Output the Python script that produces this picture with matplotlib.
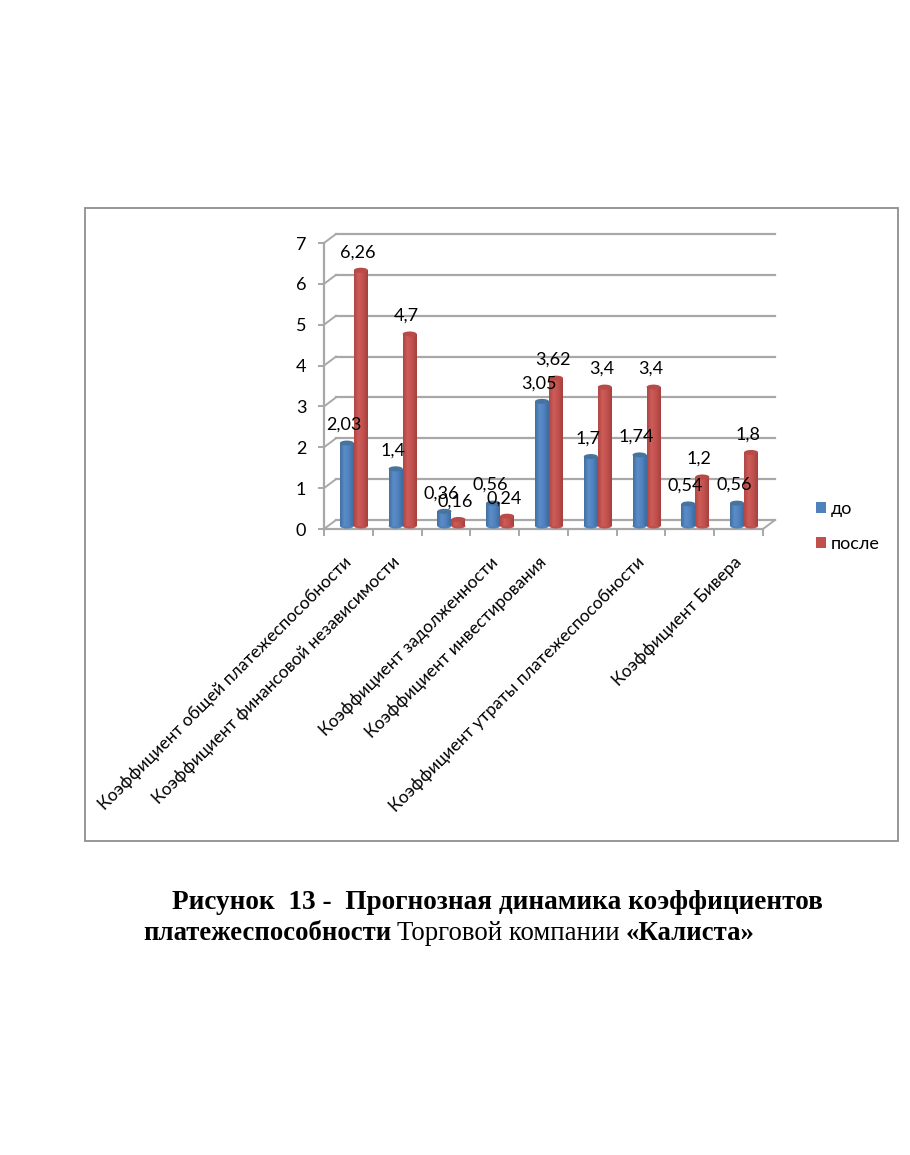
import numpy as np
import matplotlib
matplotlib.use("Agg")
import matplotlib.pyplot as plt
from matplotlib.patches import Rectangle, Ellipse
from matplotlib.lines import Line2D
from matplotlib.transforms import Affine2D
from matplotlib.colors import LinearSegmentedColormap

FIG_W, FIG_H = 910, 1155
SANS = ['Lato', 'Open Sans', 'DejaVu Sans']
SERIF = ['Liberation Serif', 'DejaVu Serif']
plt.rcParams['font.family'] = SANS

categories = ["Коэффициент общей платежеспособности",
              "Коэффициент финансовой независимости",
              "",
              "Коэффициент задолженности",
              "Коэффициент инвестирования",
              "",
              "Коэффициент утраты платежеспособности",
              "",
              "Коэффициент Бивера"]
before = [2.03, 1.4, 0.36, 0.56, 3.05, 1.7, 1.74, 0.54, 0.56]
after = [6.26, 4.7, 0.16, 0.24, 3.62, 3.4, 3.4, 1.2, 1.8]
series_names = ["до", "после"]
y_ticks = list(range(8))

BLUE = '#4F81BD'
RED = '#C0504D'
GREY = '#A8A8A8'
cm_blue = LinearSegmentedColormap.from_list('b', ['#41709F', '#5B8DCA', '#4F81BD', '#3D6A9E'])
cm_red = LinearSegmentedColormap.from_list('r', ['#AE4643', '#CE5D59', '#C0504D', '#A63F3C'])


def px_rect(x0, y0, x1, y1):
    return [x0 / FIG_W, 1 - y1 / FIG_H, (x1 - x0) / FIG_W, (y1 - y0) / FIG_H]


fig = plt.figure(figsize=(FIG_W / 100, FIG_H / 100), dpi=100, facecolor='white')

# outer frame of the pasted chart
fig.add_artist(Rectangle((85 / FIG_W, 1 - 841 / FIG_H), (898 - 85) / FIG_W, (841 - 207.5) / FIG_H,
                         transform=fig.transFigure, fill=False, edgecolor='#8F8F8F', linewidth=1.3))

ax = fig.add_axes(px_rect(324, 243, 763, 529))
ax.set_xlim(0, len(before))
ax.set_ylim(0, 7)
ax.patch.set_visible(False)
for s in ('top', 'right'):
    ax.spines[s].set_visible(False)
for s in ('left', 'bottom'):
    ax.spines[s].set_color(GREY)
    ax.spines[s].set_linewidth(1.6)

n = len(before)
ax.set_xticks(np.arange(n + 1), [''] * (n + 1))
ax.set_xticks(np.arange(n) + 0.5, categories, minor=True, rotation=45, ha='right',
              rotation_mode='anchor', fontsize=12.5, color='black')
ax.tick_params(axis='x', which='minor', length=0, pad=18)
ax.tick_params(axis='x', which='major', length=5, width=1.4, color=GREY)
for lab in ax.get_xticklabels(minor=True):
    lab.set_transform(lab.get_transform() + Affine2D().translate(-5, 0))
ax.set_yticks(y_ticks)
ax.tick_params(axis='y', length=4.3, width=1.4, color=GREY, labelsize=13, pad=8.5)

# pseudo-3D walls
back = ax.transData + Affine2D().translate(12, 9)
for t in y_ticks:
    ax.plot([0, n], [t, t], color=GREY, lw=1.6, transform=back, clip_on=False, zorder=1)
    p0 = ax.transData.transform((0, t))
    fig.add_artist(Line2D([p0[0] / FIG_W, (p0[0] + 12) / FIG_W], [p0[1] / FIG_H, (p0[1] + 9) / FIG_H],
                          color=GREY, lw=1.4, transform=fig.transFigure, zorder=1))
pr = ax.transData.transform((n, 0))
fig.add_artist(Line2D([pr[0] / FIG_W, (pr[0] + 12) / FIG_W], [pr[1] / FIG_H, (pr[1] + 9) / FIG_H],
                      color=GREY, lw=1.4, transform=fig.transFigure, zorder=1))

# cylinders
bar_tr = ax.transData + Affine2D().translate(5.5, 3)
bw = 14 / (439 / n)
ell_h = 5 / (286 / 7)
grad = np.linspace(0, 1, 64)[None, :]


def cylinder(x, v, cmap, base, top):
    rect = Rectangle((x - bw / 2, 0), bw, v, transform=bar_tr, facecolor=base, edgecolor='none',
                     clip_on=False, zorder=3)
    ax.add_patch(rect)
    im = ax.imshow(grad, extent=(x - bw / 2, x + bw / 2, 0, v), aspect='auto', cmap=cmap,
                   transform=bar_tr, zorder=3.1, interpolation='bilinear')
    im.set_clip_on(True)
    im.set_clip_path(rect)
    ax.add_patch(Ellipse((x, 0), bw, ell_h, transform=bar_tr, facecolor=base, edgecolor='none',
                         clip_on=False, zorder=2.9))
    ax.add_patch(Ellipse((x, v), bw, ell_h, transform=bar_tr, facecolor=top, edgecolor='none',
                         clip_on=False, zorder=3.2))


for i, (b, a) in enumerate(zip(before, after)):
    xb, xa = i + 0.5 - bw / 2, i + 0.5 + bw / 2
    cylinder(xa, a, cm_red, RED, '#B84A47')
    cylinder(xb, b, cm_blue, BLUE, '#46749F')
ax.set_xlim(0, n)
ax.set_ylim(0, 7)

# value labels
for i, (b, a) in enumerate(zip(before, after)):
    for v, x in ((b, i + 0.5 - bw / 2), (a, i + 0.5 + bw / 2)):
        ax.annotate(str(v).replace('.', ','), xy=(x, v), xycoords=bar_tr, xytext=(-3, 18),
                    textcoords='offset pixels', ha='center', va='center', fontsize=13,
                    color='black', zorder=6, annotation_clip=False)

# legend
handles = [Rectangle((0, 0), 1, 1, facecolor=BLUE), Rectangle((0, 0), 1, 1, facecolor=RED)]
fig.legend(handles, series_names, loc='upper left', bbox_to_anchor=(815.5 / FIG_W, 1 - 501 / FIG_H),
           frameon=False, fontsize=13, handlelength=0.56, handleheight=0.56, handletextpad=0.3,
           labelspacing=1.05, borderpad=0, borderaxespad=0)

# caption with mixed weights
fig.canvas.draw()
renderer = fig.canvas.get_renderer()


def run_line(x, y, parts, size):
    for txt, weight in parts:
        t = fig.text(x / FIG_W, 1 - y / FIG_H, txt, family=SERIF, fontsize=size, fontweight=weight,
                     ha='left', va='baseline', color='black')
        x = t.get_window_extent(renderer).x1 + 6


run_line(172, 909, [("Рисунок  13 -  Прогнозная динамика коэффициентов", 'bold')], 19.6)
run_line(143, 940, [("платежеспособности", 'bold'), ("Торговой компании", 'normal'), ("«Калиста»", 'bold')], 19.3)

fig.savefig('out.png', dpi=100, facecolor='white')
